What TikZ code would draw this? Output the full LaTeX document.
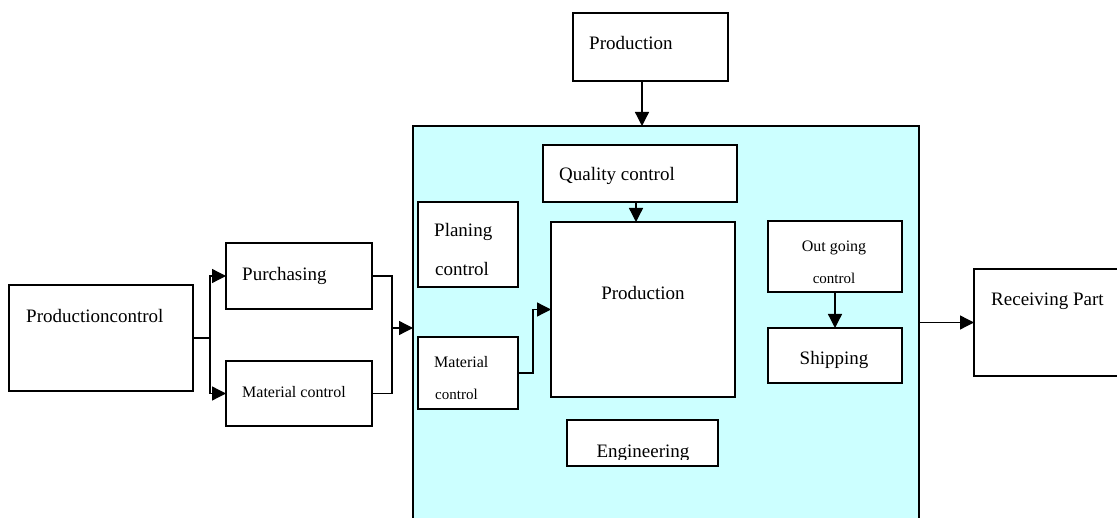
\documentclass[tikz,border=0pt]{standalone}
\usepackage{fontspec}
\setmainfont{Liberation Serif}
\usetikzlibrary{arrows.meta}
\definecolor{bigcyan}{HTML}{CCFFFF}
\begin{document}
\begin{tikzpicture}[x=1pt,y=-1pt,
  box/.style={draw=black,line width=1.3pt,fill=white,anchor=north west,inner sep=0pt,outer sep=0pt},
  lbl/.style={font=\fontsize{19}{21}\selectfont,inner sep=0pt},
  sm/.style={font=\fontsize{16}{18}\selectfont,inner sep=0pt},
  xs/.style={font=\fontsize{15}{17}\selectfont,inner sep=0pt},
  conn/.style={line width=1.3pt,-{Triangle[length=14pt,width=14pt]}},
  wire/.style={line width=1.3pt}]
\useasboundingbox (0,0) rectangle (1117,518);
\clip (0,0) rectangle (1117,518);
% boxes
\node[box,fill=bigcyan,minimum width=506pt,minimum height=404pt] (big) at (413,126) {};
\node[box,minimum width=184pt,minimum height=106pt] (pc) at (9,285) {};
\node[box,minimum width=146pt,minimum height=66pt] (pur) at (226,243) {};
\node[box,minimum width=146pt,minimum height=65pt] (mc) at (226,361) {};
\node[box,minimum width=194pt,minimum height=57pt] (qc) at (543,145) {};
\node[box,minimum width=184pt,minimum height=175pt] (prod) at (551,222) {};
\node[box,minimum width=100pt,minimum height=85pt] (plan) at (418,202) {};
\node[box,minimum width=100pt,minimum height=72pt] (mc2) at (418,337) {};
\node[box,minimum width=134pt,minimum height=71pt] (og) at (768,221) {};
\node[box,minimum width=134pt,minimum height=55pt] (ship) at (768,328) {};
\node[box,minimum width=151pt,minimum height=46pt] (eng) at (567,420) {};
\node[box,minimum width=155pt,minimum height=68pt] (top) at (573,13) {};
\node[box,minimum width=160pt,minimum height=107pt] (recv) at (974,269) {};
% texts
\node[lbl,anchor=base west] (tpc) at (26,323) {Productioncontrol};
\node[lbl,anchor=base west] (tpur) at (242,281) {Purchasing};
\node[sm,anchor=base west] (tmc) at (242,398) {Material control};
\node[lbl,anchor=base west] (ttop) at (589,50) {Production};
\node[lbl,anchor=base west] (tqc) at (559,181) {Quality control};
\node[lbl,anchor=base west] (tplan1) at (434,237) {Planing};
\node[lbl,anchor=base west] (tplan2) at (435,276) {control};
\node[lbl,anchor=base] (tprod) at (643,300) {Production};
\node[sm,anchor=base west] (tmc21) at (434,368) {Material};
\node[xs,anchor=base west] (tmc22) at (435,400) {control};
\node[sm,anchor=base] (tog1) at (834,252) {Out going};
\node[xs,anchor=base] (tog2) at (834,284) {control};
\node[lbl,anchor=base] (tship) at (834,365) {Shipping};
\node[lbl,anchor=base west] (trecv) at (991,306) {Receiving Part};
\begin{scope}
  \clip (567,420) rectangle (718,460);
  \node[lbl,anchor=base] (teng) at (643,458) {Engineering};
\end{scope}
% connectors
\coordinate (j1) at (210,338);
\draw[wire] (pc.east) -- (j1);
\draw[conn] (j1) |- (pur.west);
\draw[conn] (j1) |- (mc.west);
\coordinate (j2) at (392,328);
\draw[wire] (pur.east) -| (j2);
\draw[wire] (mc.east) -| (j2);
\draw[conn] (j2) -- (big.west);
\draw[conn] ([xshift=-8.5pt]top.south) -- ([xshift=-8.5pt]top.south |- big.north);
\draw[conn] ([xshift=-4pt]qc.south) -- ([xshift=-4pt]qc.south |- prod.north);
\draw[conn] (mc2.east) -- ++(15,0) |- (prod.west);
\draw[conn] (og.south) -- (ship.north);
\draw[conn] (big.east |- recv.west) -- (recv.west);
\end{tikzpicture}
\end{document}
